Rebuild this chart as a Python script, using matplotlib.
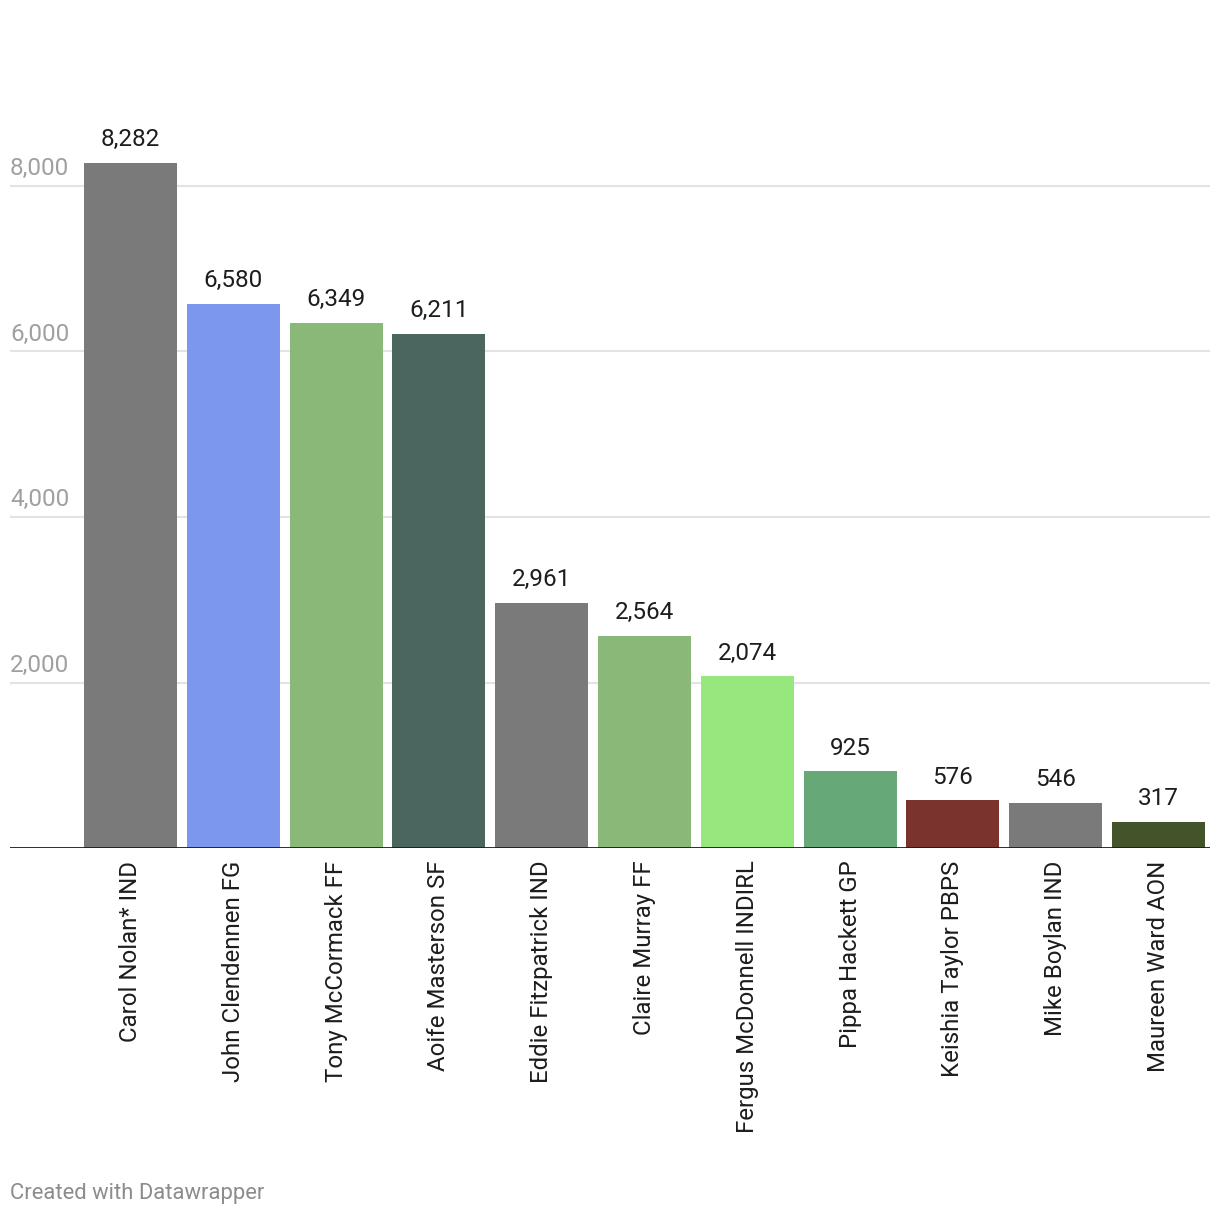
import matplotlib.pyplot as plt

plt.rcParams['font.family'] = ['Roboto', 'DejaVu Sans']

names = ["Carol Nolan* IND", "John Clendennen FG", "Tony McCormack FF",
         "Aoife Masterson SF", "Eddie Fitzpatrick IND", "Claire Murray FF",
         "Fergus McDonnell INDIRL", "Pippa Hackett GP", "Keishia Taylor PBPS",
         "Mike Boylan IND", "Maureen Ward AON"]
votes = [8282, 6580, 6349, 6211, 2961, 2564, 2074, 925, 576, 546, 317]
colors = ["#7a7a7a", "#7b98ee", "#8ab878", "#4a665f", "#7a7a7a", "#8ab878",
          "#95e77e", "#67a878", "#7a332d", "#7a7a7a", "#43542b"]
yticks = [2000, 4000, 6000, 8000]

W, H = 1220, 1216
fig = plt.figure(figsize=(W / 100, H / 100), dpi=100)

# axes spans x 10..1210 px, y baseline at 847 px, top at 100 px
ax = fig.add_axes([10 / W, (H - 848) / H, 1200 / W, (848 - 100) / H])
step = 102.8
x0 = 130.5
ax.set_xlim((10 - x0) / step, (1210 - x0) / step)
ymax = (848 - 100) / 662 * 8000
ax.set_ylim(0, ymax)

for y in yticks:
    ax.axhline(y, color="#e3e3e3", lw=1.5, zorder=0)
    ax.text(ax.get_xlim()[0], y + 70, f"{y:,}", ha="left", va="bottom",
            fontsize=17.5, color="#a0a0a0")

pos = list(range(len(names)))
ax.bar(pos, votes, width=93 / step, color=colors, zorder=2)
for p, v in zip(pos, votes):
    ax.text(p, v + 140, f"{v:,}", ha="center", va="bottom", fontsize=17.5,
            color="#1d1d1d")

ax.axhline(0, color="#1a1a1a", lw=2, zorder=3)

ax.set_xticks(pos)
ax.set_xticklabels(names, rotation=90, fontsize=17.3, color="#1d1d1d",
                   va="top", ha="center")
ax.tick_params(axis="x", length=0, pad=9)
ax.set_yticks([])
for s in ax.spines.values():
    s.set_visible(False)

fig.text(10 / W, 1 - 1193 / H, "Created with Datawrapper", ha="left",
         va="center", fontsize=15.8, color="#8c8c8c")

fig.savefig("out.png", dpi=100)
